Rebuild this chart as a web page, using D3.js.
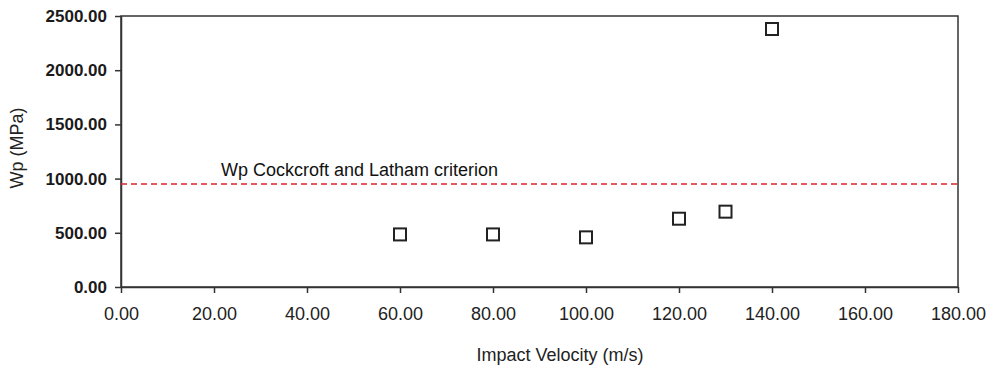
<!DOCTYPE html>
<html>
<head>
<meta charset="utf-8">
<script src="https://cdn.jsdelivr.net/npm/d3@7"></script>
<style>
  body { margin: 0; background: #fff; }
  svg { display: block; font-family: "Liberation Sans", Arial, sans-serif; }
</style>
</head>
<body>
<div id="chart"></div>
<script>
const velocity = [60, 80, 100, 120, 130, 140];
const wp = [485, 485, 458, 630, 695, 2380];
const criterion = 950;
const xTicks = [0, 20, 40, 60, 80, 100, 120, 140, 160, 180];
const yTicks = [0, 500, 1000, 1500, 2000, 2500];

const W = 996, H = 366;
const margin = { top: 16, right: 38, bottom: 79, left: 121 };
const width = W - margin.left - margin.right;
const height = H - margin.top - margin.bottom;

const svg = d3.select("#chart")
  .append("svg")
  .attr("width", W)
  .attr("height", H)
  .append("g")
  .attr("transform", `translate(${margin.left},${margin.top})`);

const x = d3.scaleLinear().domain([0, 180]).range([0, width]);
const y = d3.scaleLinear().domain([0, 2500]).range([height, 0]);

// frame
svg.append("rect")
  .attr("width", width)
  .attr("height", height)
  .attr("fill", "none")
  .attr("stroke", "#333")
  .attr("stroke-width", 1.5);

const xAxis = svg.append("g")
  .attr("transform", `translate(0,${height})`)
  .call(d3.axisBottom(x).tickValues(xTicks).tickFormat(d3.format(".2f")).tickSize(6).tickSizeOuter(0));

const yAxis = svg.append("g")
  .call(d3.axisLeft(y).tickValues(yTicks).tickFormat(d3.format(".2f")).tickSize(6).tickSizeOuter(0));

[xAxis, yAxis].forEach(a => {
  a.select(".domain").attr("stroke", "#333").attr("stroke-width", 1.5);
  a.selectAll(".tick line").attr("stroke", "#333").attr("stroke-width", 1.5);
  a.selectAll(".tick text")
    .attr("fill", "#222")
    .style("font-family", "'Liberation Sans', Arial, sans-serif");
});
xAxis.selectAll(".tick text").style("font-size", "18px").attr("y", 20).attr("dy", "0.71em");
yAxis.selectAll(".tick text").style("font-size", "17px").attr("x", -14).attr("fill", "#1a1a1a")
  .style("font-weight", "bold");

// criterion line
svg.append("line")
  .attr("x1", 0)
  .attr("x2", width)
  .attr("y1", y(criterion))
  .attr("y2", y(criterion))
  .attr("stroke", "#e0202a")
  .attr("stroke-width", 1.5)
  .attr("stroke-dasharray", "6,4");

svg.append("text")
  .attr("x", x(21.5))
  .attr("y", y(criterion) - 8)
  .style("font-size", "18px")
  .attr("fill", "#111")
  .text("Wp Cockcroft and Latham criterion");

// markers
const s = 12;
svg.selectAll(".pt")
  .data(velocity.map((v, i) => ({ v, w: wp[i] })))
  .enter()
  .append("rect")
  .attr("class", "pt")
  .attr("x", d => x(d.v) - s / 2)
  .attr("y", d => y(d.w) - s / 2)
  .attr("width", s)
  .attr("height", s)
  .attr("fill", "#fff")
  .attr("stroke", "#222")
  .attr("stroke-width", 2);

// axis titles
svg.append("text")
  .attr("x", 560 - margin.left)
  .attr("y", 361 - margin.top)
  .attr("text-anchor", "middle")
  .style("font-size", "18px")
  .attr("fill", "#222")
  .text("Impact Velocity (m/s)");

svg.append("text")
  .attr("transform", `translate(${23 - margin.left},${148 - margin.top}) rotate(-90)`)
  .attr("text-anchor", "middle")
  .style("font-size", "18px")
  .attr("fill", "#222")
  .text("Wp (MPa)");
</script>
</body>
</html>
